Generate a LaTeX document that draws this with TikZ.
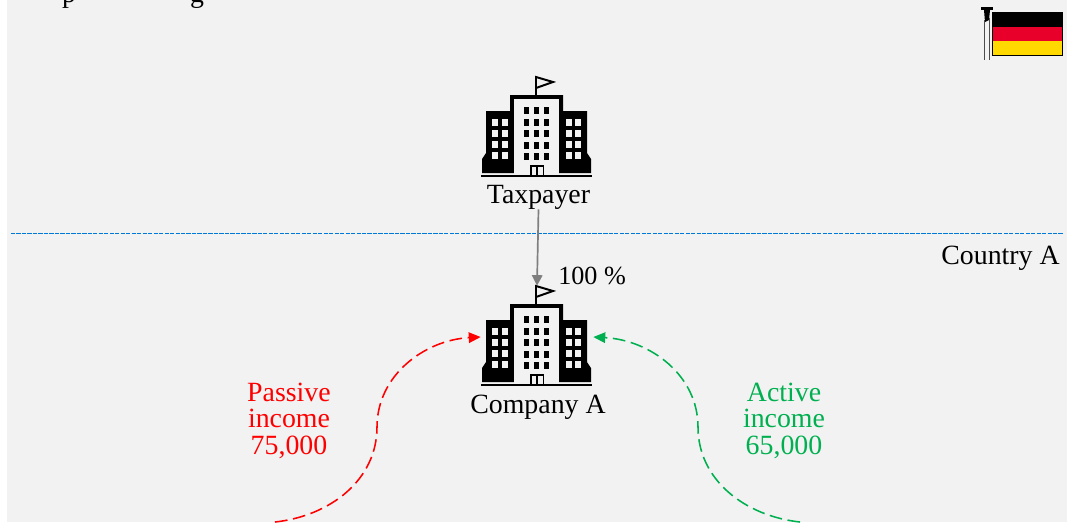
\documentclass[tikz,border=0pt]{standalone}
\usepackage{fontspec}
\setmainfont{Liberation Serif}
\usepackage{tikz}
\usetikzlibrary{arrows.meta}
\usetikzlibrary{positioning}
\definecolor{panel}{HTML}{F2F2F2}
\definecolor{passive}{HTML}{FF0000}
\definecolor{active}{HTML}{00B050}
\definecolor{share}{HTML}{7F7F7F}
\definecolor{frontier}{HTML}{0078D7}
\definecolor{flagred}{HTML}{E8002A}
\definecolor{flaggold}{HTML}{FFD900}
\tikzset{
  label/.style={font=\fontsize{19.8}{18.8}\selectfont, inner sep=0, anchor=base, align=center},
  iconbox/.style={inner sep=0, minimum width=2.8cm, minimum height=2.55cm},
  income/.style={line width=1.1pt, dash pattern=on 9pt off 4pt, -{Triangle[length=8.5pt,width=7.5pt]}},
  building/.pic={
    \fill (-55, 45) -- (-55, 31) -- (-51, 25) -- (-51, -17) -- (-27, -17) -- (-27, -33) -- (26, -33)
      -- (26, -17) -- (50, -17) -- (50, 25) -- (54, 31) -- (54, 45) -- cycle;
    \fill [panel] (-23, -29) rectangle (22, 47);
    \foreach \y in {-21, -9, 2, 14, 25}
      \foreach \x in {-13, -3, 6.5}
        \fill (\x, \y) rectangle ++(5, 6.5);
    \foreach \y in {-9, 2, 13, 24}
      \foreach \x in {-45, -35, 29, 38}
        \fill [panel] (\x, \y) rectangle ++(5.5, 6.5);
    \fill (-7, 37) rectangle (7, 47);
    \fill [panel] (-5.5, 39) rectangle (-.7, 47);
    \fill [panel] (.7, 39) rectangle (5.5, 47);
    \draw [line width=.8pt] (-56, 48) -- (55, 48);
    \draw [line width=1.4pt] (-1, -33) -- (-1, -51) -- (16, -46) -- (-1, -40);
  }
}
\begin{document}
\begin{tikzpicture}[x=.025cm, y=-.025cm]
  \useasboundingbox (0, 0) rectangle (1067, 522);
  \fill [panel] (7, 0) rectangle (1067, 522);
  % heading, cut off by the top edge
  \begin{scope}
    \clip (0, 0) rectangle (1067, 522);
    \node (headp) [label] at (69, 2) {p};
    \node (headg) [label] at (197, 2) {g};
  \end{scope}
  % flag
  \fill [black] (981, 7) rectangle (993, 10);
  \fill [black] (984, 10) -- (990, 10) -- (989, 20) -- (985, 22) -- cycle;
  \draw [line width=.7pt, black!70] (984, 20) -- (984, 60);
  \draw [line width=.7pt, black!70] (989, 18) -- (989, 60);
  \fill [black] (992, 12) rectangle (1062, 27);
  \fill [flagred] (992, 27) rectangle (1062, 41);
  \fill [flaggold] (992, 41) rectangle (1062, 55);
  \draw [line width=.5pt] (992, 12) rectangle (1062.5, 55.5);
  % border between the countries
  \coordinate (borderl) at (11, 233.5);
  \coordinate (borderr) at (1063, 233.5);
  \draw [frontier, line width=1pt, dash pattern=on 3pt off .9pt] (borderl) -- (borderr);
  \node (countrya) [label, anchor=base east] at (1060, 264) {Country A};
  % entities
  \node (taxpayericon) [iconbox] at (537, 128) {};
  \pic at (taxpayericon.center) {building};
  \node (taxpayer) [label] at (538.5, 203) {Taxpayer};
  \node (companyicon) [iconbox] at (537, 337) {};
  \pic at (companyicon.center) {building};
  \node (company) [label] at (538, 413) {Company A};
  \draw [share, line width=1.2pt, -{Triangle[length=7.5pt,width=7.5pt]}] (taxpayer.south) -- (companyicon.north);
  \node (sharelabel) [label, anchor=base west, font=\fontsize{18.6}{18.8}\selectfont] at (558, 284) {100 \%};
  % incomes
  \coordinate (passivefrom) at (275, 522);
  \coordinate (activefrom) at (800, 522);
  \draw [income, passive] (passivefrom) .. controls (330, 516) and (377, 480) .. (377, 427)
    .. controls (377, 375) and (425, 340) .. (companyicon.west);
  \draw [income, active] (activefrom) .. controls (745, 516) and (698, 480) .. (698, 427)
    .. controls (698, 375) and (650, 340) .. (companyicon.east);
  \node (passivelabel) [label, passive] at (289, 454) {Passive\\income\\75,000};
  \node (activelabel) [label, active] at (784, 454) {Active\\income\\65,000};
\end{tikzpicture}
\end{document}
